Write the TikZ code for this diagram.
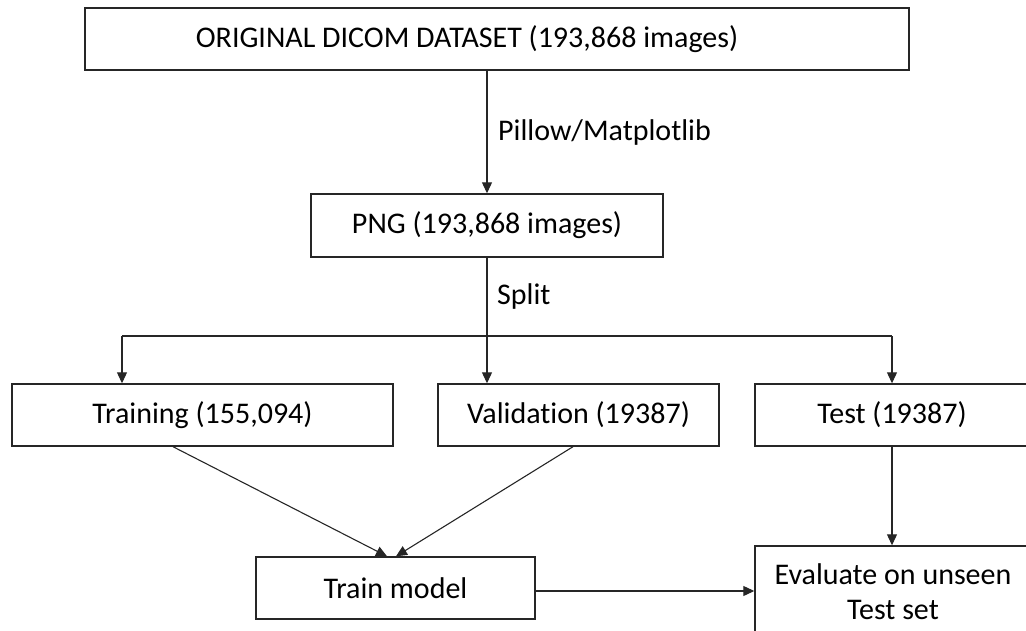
\documentclass[tikz,border=0pt]{standalone}
\usepackage{fontspec}
\setmainfont{Carlito}[Ligatures=NoCommon]
\usetikzlibrary{arrows.meta, positioning}

\begin{document}
\begin{tikzpicture}[
    x=1pt, y=-1pt,
    box/.style={
        rectangle, draw=black!85, line width=1.4pt, inner sep=0pt,
        font=\fontsize{30}{35}\selectfont, align=center
    },
    lbl/.style={font=\fontsize{30}{35}\selectfont, anchor=west, inner sep=0pt},
    arr/.style={-{Triangle[length=11pt, width=10pt]}, line width=1.1pt, black!85},
    link/.style={line width=1.1pt, black!85}
]
\useasboundingbox (0,0) rectangle (1026,631);

% ===================================================================
% Conversion
% ===================================================================
\node[box, minimum width=824pt, minimum height=62pt] (orig) at (497,39)
    {\hspace*{-60pt}ORIGINAL DICOM DATASET (193,868 images)};
\node[box, minimum width=352pt, minimum height=63pt] (png) at (487,225.5)
    {PNG (193,868 images)};

\draw[arr] (orig.south -| png.north) -- (png.north);
\node[lbl] (convlbl) at (498,133) {Pillow/Matplotlib};

% ===================================================================
% Split into three sets
% ===================================================================
\node[box, minimum width=381pt, minimum height=62pt] (train) at (202.5,415)
    {Training (155,094)};
\node[box, minimum width=281pt, minimum height=62pt] (val) at (578.5,415)
    {Validation (19387)};
\node[box, minimum width=274pt, minimum height=62pt] (test) at (892,415)
    {Test (19387)};

\draw[arr] (png.south) -- (png.south |- val.north);
\node[lbl] (splitlbl) at (497,297) {Split};

% fork line
\coordinate (ltap) at (122,336);
\coordinate (rtap) at (test.north |- ltap);
\draw[link] (ltap) -- (rtap);
\draw[arr] (ltap) -- (ltap |- train.north);
\draw[arr] (rtap) -- (test.north);

% ===================================================================
% Training and evaluation
% ===================================================================
\node[box, minimum width=279pt, minimum height=62pt] (model) at (395.5,588)
    {Train model};
\node[box, minimum width=276pt, minimum height=92pt] (eval) at (893,592)
    {Evaluate on unseen\\Test set};

\draw[arr] ([xshift=-29.5pt]train.south) -- ([xshift=-8.5pt]model.north);
\draw[arr] ([xshift=-5.5pt]val.south) -- ([xshift=0.5pt]model.north);
\draw[arr] (test.south) -- (test.south |- eval.north);
\draw[arr] ([yshift=-3pt]model.east) -- ([yshift=-3pt]model.east -| eval.west);

\end{tikzpicture}
\end{document}
